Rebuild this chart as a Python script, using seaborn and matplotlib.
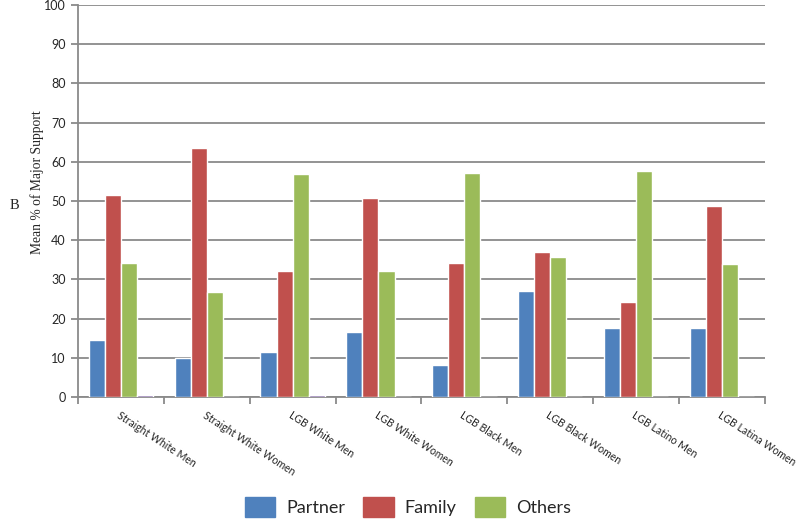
import pandas as pd
import matplotlib.pyplot as plt
import seaborn as sns
from matplotlib.patches import Patch

# groups and mean % of major support
groups = ['Straight White Men', 'Straight White Women', 'LGB White Men', 'LGB White Women',
          'LGB Black Men', 'LGB Black Women', 'LGB Latino Men', 'LGB Latina Women']
partner = [14.5, 10.0, 11.4, 16.7, 8.2, 27.1, 17.7, 17.7]
family = [51.4, 63.5, 32.1, 50.8, 34.3, 37.0, 24.3, 48.7]
others = [34.3, 26.7, 56.8, 32.1, 57.2, 35.6, 57.7, 33.8]
# small fourth series with no legend entry
missing = [0.5, 0.0, 0.5, 0.0, 0.0, 0.0, 0.0, 0.0]

series = ['Partner', 'Family', 'Others', 'Missing']
colors = {'Partner': '#4F81BD', 'Family': '#C0504D', 'Others': '#9BBB59', 'Missing': '#8064A2'}

df = pd.DataFrame({'Group': groups, 'Partner': partner, 'Family': family,
                   'Others': others, 'Missing': missing})
long_df = df.melt(id_vars='Group', value_vars=series, var_name='Source', value_name='Support')

sns.set_style('white')
plt.rcParams['font.family'] = ['Lato', 'DejaVu Sans']

fig = plt.figure(figsize=(8, 5.24), dpi=100)
ax = fig.add_axes([0.0975, 0.2424, 0.8585, 0.7481])

sns.barplot(data=long_df, x='Group', y='Support', hue='Source', hue_order=series,
            palette=colors, width=0.75, saturation=1, legend=False, ax=ax, zorder=3)

ax.set_ylim(0, 100)
ax.set_xlim(-0.5, len(groups) - 0.5)
ax.set_yticks(range(0, 101, 10))
ax.yaxis.grid(True, color='#8a8a8a', linewidth=1.3, zorder=0)
ax.set_axisbelow(True)

for s in ['top', 'right']:
    ax.spines[s].set_visible(False)
for s in ['left', 'bottom']:
    ax.spines[s].set_color('#8a8a8a')
    ax.spines[s].set_linewidth(1.3)

ax.tick_params(axis='y', direction='out', length=5, color='#8a8a8a', width=1.3,
               labelsize=9, left=True, pad=4)
ax.set_xticks(range(len(groups)))
ax.set_xticks([i - 0.5 for i in range(len(groups) + 1)], minor=True)
ax.tick_params(axis='x', which='major', length=0, pad=9)
ax.tick_params(axis='x', which='minor', direction='out', length=5, color='#8a8a8a',
               width=1.3, bottom=True)
ax.set_xticklabels(groups, rotation=-33, ha='left', va='top', rotation_mode='anchor',
                   fontsize=7.6)

ax.set_xlabel('')
ax.set_ylabel('')
fig.text(0.046, 0.652, 'Mean % of Major Support', family='Liberation Serif', fontsize=9.8,
         rotation=90, ha='center', va='center')
fig.text(0.012, 0.608, 'B', family='Liberation Serif', fontsize=10.5, va='center')

handles = [Patch(facecolor=colors[s], edgecolor=colors[s]) for s in series[:3]]
fig.legend(handles, series[:3], loc='center', bbox_to_anchor=(0.51, 0.032), ncol=3,
           frameon=False, fontsize=13, handlelength=1.7, handleheight=1.3,
           columnspacing=1.0, handletextpad=0.6)

fig.savefig('out.png', dpi=100)
